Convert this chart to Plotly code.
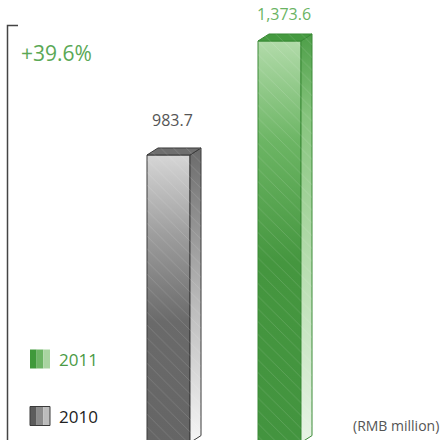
import plotly.graph_objects as go

# ---- data ----
years = ["2010", "2011"]
values = [983.7, 1373.6]
value_labels = ["983.7", "1,373.6"]
growth_label = "+39.6%"
unit_label = "(RMB million)"

# ---- geometry (pixel-based layout) ----
W, H = 445, 440
Y0, Y1 = 8.9, 1513.8
PX_PER_UNIT = H / (Y1 - Y0)
centers = [168.5, 279.5]
HALF = 21.5
DX = 11
DY = 7 / PX_PER_UNIT
label_px_above = [35, 27]

FONT = "Open Sans"

styles = [
    dict(  # 2010 gray
        front=[[0, "#656565"], [0.42, "#6a6a6a"], [0.72, "#9d9d9d"], [1, "#d6d6d6"]],
        side=[[0, "#f6f6f6"], [0.45, "#bdbdbd"], [0.8, "#8a8a8a"], [1, "#6a6a6a"]],
        top="#6f6f6f",
        outline="#3a3a3a",
        label="#555555",
        legend_text="#222222",
        icon=["#5c5c5c", "#8c8c8c", "#bcbcbc"],
    ),
    dict(  # 2011 green
        front=[[0, "#43943f"], [0.45, "#45963f"], [0.75, "#6cb564"], [1, "#b2dbaa"]],
        side=[[0, "#e8f4e6"], [0.45, "#b5dcad"], [0.8, "#86c47d"], [1, "#4d9e48"]],
        top="#459a40",
        outline="#3a8a36",
        label="#6ab463",
        legend_text="#4a9a45",
        icon=["#3f993a", "#6cb464", "#a9d4a1"],
    ),
]

fig = go.Figure()
pattern = dict(shape="\\", bgcolor="rgba(0,0,0,0)", fgcolor="rgba(255,255,255,0.35)",
               size=9, solidity=0.08)

for year, v, c, st in zip(years, values, centers, styles):
    l, r = c - HALF, c + HALF
    # front face
    fig.add_trace(go.Scatter(
        x=[l, r, r, l, l], y=[0, 0, v, v, 0], mode="lines", fill="toself",
        fillgradient=dict(type="vertical", colorscale=st["front"]),
        line=dict(color=st["outline"], width=1), hoverinfo="skip", showlegend=False,
        name=year))
    # side face
    fig.add_trace(go.Scatter(
        x=[r, r + DX, r + DX, r, r], y=[0, DY, v + DY, v, 0], mode="lines", fill="toself",
        fillgradient=dict(type="vertical", colorscale=st["side"]),
        line=dict(color=st["outline"], width=1), hoverinfo="skip", showlegend=False))
    # top face
    fig.add_trace(go.Scatter(
        x=[l, r, r + DX, l + DX, l], y=[v, v, v + DY, v + DY, v], mode="lines",
        fill="toself", fillcolor=st["top"],
        line=dict(color=st["outline"], width=1), hoverinfo="skip", showlegend=False))
    # hatching overlays
    for xs, ys in (([l, r, r, l, l], [0, 0, v, v, 0]),
                   ([r, r + DX, r + DX, r, r], [0, DY, v + DY, v, 0]),
                   ([l, r, r + DX, l + DX, l], [v, v, v + DY, v + DY, v])):
        fig.add_trace(go.Scatter(
            x=xs, y=ys, mode="lines", fill="toself", fillcolor="rgba(0,0,0,0)",
            fillpattern=pattern, line=dict(width=0), hoverinfo="skip", showlegend=False))

annotations = []
for v, c, lab, st, dpx in zip(values, centers, value_labels, styles, label_px_above):
    annotations.append(dict(x=c + 4, y=v, text=lab, showarrow=False, xanchor="center",
                            yanchor="middle", yshift=dpx,
                            font=dict(family=FONT, size=16, color=st["label"])))


def px(x):
    return x / W


def py(y):
    return 1 - y / H


annotations.append(dict(x=px(19), y=py(53), xref="paper", yref="paper", text=growth_label,
                        showarrow=False, xanchor="left", yanchor="middle",
                        font=dict(family=FONT, size=21, color="#5aa855")))
annotations.append(dict(x=px(441), y=py(425), xref="paper", yref="paper", text=unit_label,
                        showarrow=False, xanchor="right", yanchor="middle",
                        font=dict(family=FONT, size=14, color="#555555")))

shapes = [
    dict(type="path", xref="paper", yref="paper",
         path=f"M {px(7.5)} {py(440)} L {px(7.5)} {py(25.5)} L {px(18)} {py(25.5)}",
         line=dict(color="#444444", width=1.5)),
]

# legend (2011 on top, 2010 below)
legend_rows = [(1, 359), (0, 416)]
for idx, ycen in legend_rows:
    st = styles[idx]
    x0 = 30
    for k, col in enumerate(st["icon"]):
        shapes.append(dict(type="rect", xref="paper", yref="paper",
                           x0=px(x0 + k * 20 / 3), x1=px(x0 + (k + 1) * 20 / 3),
                           y0=py(ycen + 9.5), y1=py(ycen - 9.5),
                           fillcolor=col, line=dict(width=0)))
    if idx == 0:
        shapes.append(dict(type="rect", xref="paper", yref="paper",
                           x0=px(x0), x1=px(x0 + 20), y0=py(ycen + 9.5), y1=py(ycen - 9.5),
                           line=dict(color="#3a3a3a", width=1)))
    annotations.append(dict(x=px(57), y=py(ycen), xref="paper", yref="paper",
                            text=years[idx], showarrow=False, xanchor="left",
                            yanchor="middle",
                            font=dict(family=FONT, size=17, color=st["legend_text"])))

fig.update_layout(
    width=W, height=H, margin=dict(l=0, r=0, t=0, b=0),
    paper_bgcolor="white", plot_bgcolor="white",
    xaxis=dict(range=[0, W], visible=False, fixedrange=True),
    yaxis=dict(range=[Y0, Y1], visible=False, fixedrange=True),
    annotations=annotations, shapes=shapes, showlegend=False,
)

fig.write_html("out.html")
